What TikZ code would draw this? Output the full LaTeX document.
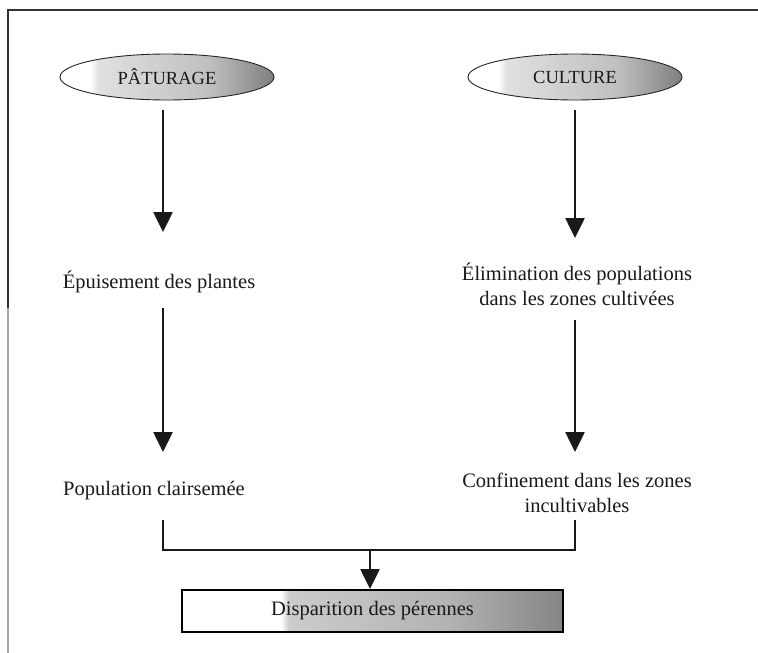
\documentclass[tikz,border=0pt]{standalone}
\usepackage{fontspec}
\setmainfont{Liberation Serif}
\usetikzlibrary{arrows.meta,shapes.geometric}
\pgfdeclarehorizontalshading{boxshade}{100bp}{color(0bp)=(white); color(38bp)=(white); color(39bp)=(black!20); color(60bp)=(black!30); color(75bp)=(black!48); color(100bp)=(black!48)}
\pgfdeclarehorizontalshading{ovalshade}{100bp}{color(0bp)=(white); color(32bp)=(white); color(34bp)=(black!12); color(60bp)=(black!25); color(75bp)=(black!50); color(100bp)=(black!50)}
\begin{document}
\begin{tikzpicture}[x=1pt,y=-1pt,
  every node/.style={font=\fontsize{20.5}{25}\selectfont, text=black!90},
  oval/.style={ellipse, draw=black!85, line width=0.9pt, minimum width=214pt, minimum height=46pt, inner sep=0pt,
    shading=ovalshade, font=\fontsize{18.5}{22}\selectfont},
  lbl/.style={align=center, inner sep=1pt},
  flow/.style={line width=2.6pt, draw=black!90, -{Triangle[width=19pt,length=20pt]}},
  brk/.style={line width=2pt, draw=black!90},
  result/.style={draw=black, line width=2pt, minimum width=381pt, minimum height=42pt, inner sep=0pt,
    shading=boxshade}
]
\useasboundingbox (0,0) rectangle (758,653);
% frame
\draw[line width=1.2pt, black!80] (8,308) -- (8,10) -- (758,10);
\draw[line width=1.2pt, black!35] (8,653) -- (8,308);

\node[oval] (pat) at (167,77) {PÂTURAGE};
\node[oval] (cul) at (575,77) {CULTURE};

\node[lbl] (epu) at (159,282) {Épuisement des plantes};
\node[lbl] (pop) at (154,491) {Population clairsemée};
\node[lbl] (eli) at (577,284) {Élimination des populations\\dans les zones cultivées};
\node[lbl] (con) at (577,493) {Confinement dans les zones\\incultivables};

\node[result] (dis) at (372.5,611) {Disparition des pérennes};

\coordinate (a1s) at (163,110); \coordinate (a1e) at (163,232);
\coordinate (a2s) at (163,308); \coordinate (a2e) at (163,452);
\coordinate (b1s) at (575,110); \coordinate (b1e) at (575,238);
\coordinate (b2s) at (575,320); \coordinate (b2e) at (575,452);
\draw[flow] (a1s) -- (a1e);
\draw[flow] (a2s) -- (a2e);
\draw[flow] (b1s) -- (b1e);
\draw[flow] (b2s) -- (b2e);

\coordinate (l1) at (163,520);
\coordinate (l2) at (163,550);
\coordinate (r2) at (575,550);
\coordinate (r1) at (575,520);
\draw[brk] (l1) -- (l2) -- (r2) -- (r1);
\coordinate (mid) at (370,550);
\draw[flow] (mid) -- (dis.north -| mid);
\end{tikzpicture}
\end{document}
